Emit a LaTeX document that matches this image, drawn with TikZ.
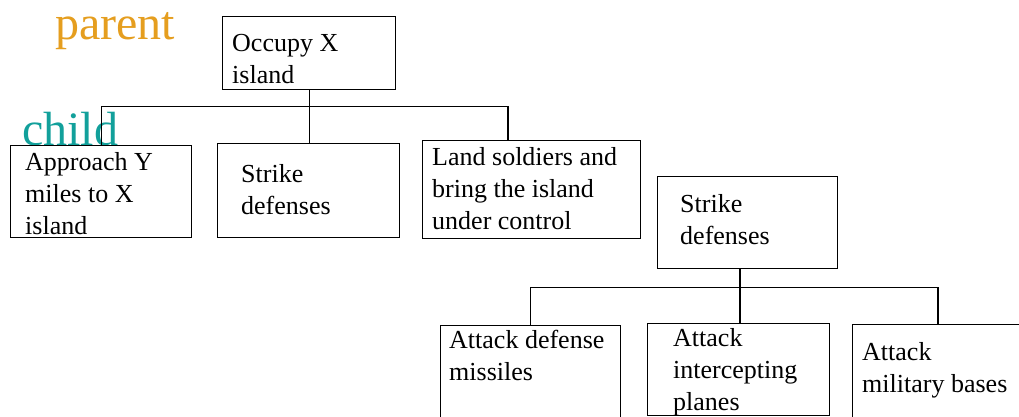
\documentclass[tikz,border=0pt]{standalone}
\usepackage{fontspec}
\setmainfont{Liberation Serif}
\usetikzlibrary{calc}
\definecolor{parentcol}{HTML}{E59E1F}
\definecolor{childcol}{HTML}{12A09B}
\tikzset{
  box/.style={draw, line width=1.1pt, rectangle, inner sep=0pt, anchor=north west},
  boxtext/.style={anchor=north west, inner sep=0pt, align=left,
    font=\fontsize{26}{32}\selectfont},
  tag/.style={anchor=base west, inner sep=0pt, font=\fontsize{48}{56}\selectfont},
  link/.style={line width=1.1pt}
}
\begin{document}
\begin{tikzpicture}[x=1pt,y=-1pt]
\useasboundingbox (0,0) rectangle (1019,417);
\clip (0,0) rectangle (1019,417);

% level labels
\node[tag, text=parentcol] (lblparent) at (55,40) {parent};
\node[tag, text=childcol] (lblchild) at (22,145) {child};

% first tree
\node[box, minimum width=173pt, minimum height=73pt] (occ) at (222,16) {};
\node[boxtext] (occt) at ($(occ.north west)+(10,18.2)$) {Occupy X\\island};

\node[box, minimum width=181pt, minimum height=92pt] (app) at (10,145) {};
\node[boxtext] (appt) at ($(app.north west)+(15,7.2)$) {Approach Y\\miles to X\\island};

\node[box, minimum width=182pt, minimum height=94pt] (str) at (217,143) {};
\node[boxtext] (strt) at ($(str.north west)+(24,21.2)$) {Strike\\defenses};

\node[box, minimum width=218pt, minimum height=98pt] (land) at (422,140) {};
\node[boxtext] (landt) at ($(land.north west)+(10,7.2)$) {Land soldiers and\\bring the island\\under control};

\draw[link] (occ.south) -- ++(0,16) coordinate (bus1);
\draw[link] (bus1) -| (app.north);
\draw[link] (bus1) -- (bus1 |- str.north);
\draw[link] (bus1) -| ($(land.north west)+(86,0)$);

% second tree
\node[box, minimum width=180pt, minimum height=92pt] (sd) at (657,176) {};
\node[boxtext] (sdt) at ($(sd.north west)+(23,18.2)$) {Strike\\defenses};

\node[box, minimum width=180pt, minimum height=130pt] (ad) at (440,325) {};
\node[boxtext] (adt) at ($(ad.north west)+(9,5.2)$) {Attack defense\\missiles};

\node[box, minimum width=182pt, minimum height=92pt] (ai) at (647,323) {};
\node[boxtext] (ait) at ($(ai.north west)+(26,5.2)$) {Attack\\intercepting\\planes};

\node[box, minimum width=200pt, minimum height=130pt] (am) at (852,324) {};
\node[boxtext] (amt) at ($(am.north west)+(10,18.2)$) {Attack\\military bases};

\coordinate (sdfoot) at ($(sd.south west)+(83,0)$);
\draw[link] (sdfoot) -- ++(0,18) coordinate (bus2);
\draw[link] (bus2) -| (ad.north);
\draw[link] (bus2) -- (bus2 |- ai.north);
\draw[link] (bus2) -| ($(am.north west)+(86,0)$);
\end{tikzpicture}
\end{document}
